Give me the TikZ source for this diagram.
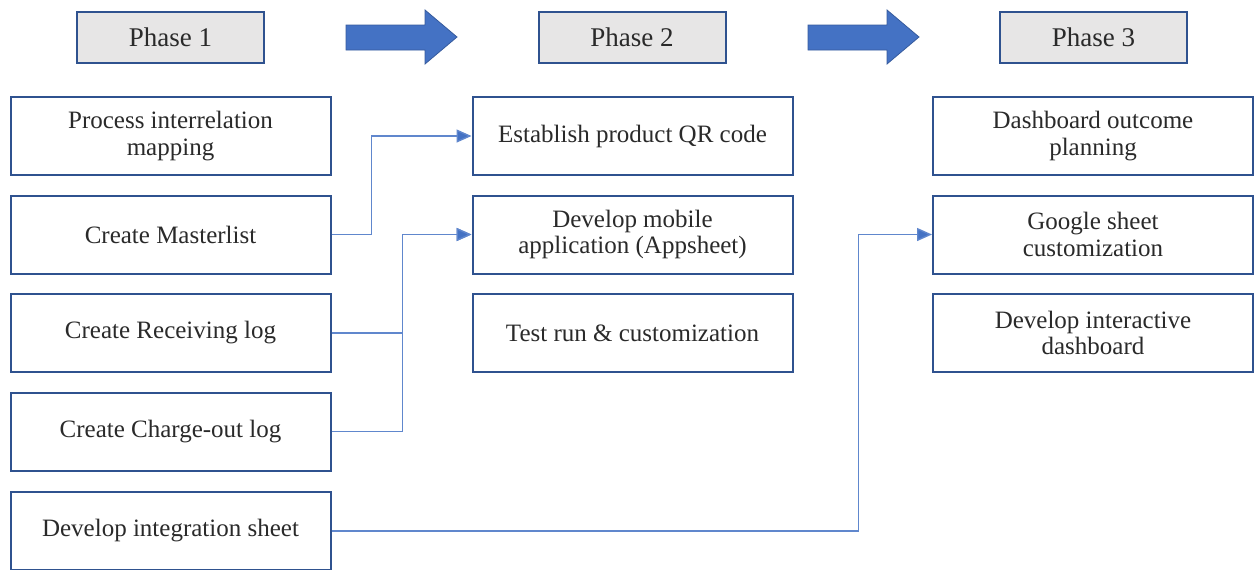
\documentclass[tikz,border=0pt]{standalone}
\usepackage{fontspec}
\setmainfont{Liberation Serif}
\usetikzlibrary{arrows.meta}
\definecolor{boxline}{HTML}{2F528F}
\definecolor{linkblue}{HTML}{4472C4}
\definecolor{headfill}{HTML}{E7E6E6}
\definecolor{txt}{HTML}{2A2A2A}
\tikzset{
    % grey title box on top of each column
    phasebox/.style={draw=boxline, line width=1pt, fill=headfill, text=txt,
        minimum width=93.5pt, minimum height=25.5pt, inner sep=0pt,
        font=\fontsize{13.5}{15}\selectfont},
    % white task box
    taskbox/.style={draw=boxline, line width=1pt, fill=white, text=txt,
        minimum width=160pt, minimum height=39pt, inner sep=0pt, align=center,
        font=\fontsize{12.5}{13.2}\selectfont},
    % elbow connector from one task to the next phase
    link/.style={draw=linkblue!85, line width=0.7pt,
        -{Triangle[length=7.5pt, width=6.5pt, fill=linkblue]}},
    % block arrow between the phase titles
    bigarrow/.style={fill=linkblue, draw=linkblue!80!black, line width=0.4pt},
}

\begin{document}
\begin{tikzpicture}[x=0.5pt, y=-0.5pt]
    \useasboundingbox (0,0) rectangle (1254,569);

    % --- phase titles ---
    \node[phasebox] (ph1) at (170.5, 37.5)  {Phase 1};
    \node[phasebox] (ph2) at (632, 37.5)    {Phase 2};
    \node[phasebox] (ph3) at (1093.5, 37.5) {Phase 3};

    % block arrows between titles
    \foreach \x in {346, 808}{
        \draw[bigarrow] (\x, 25) -- ++(79, 0) -- ++(0, -15) -- ++(32, 27)
            -- ++(-32, 27) -- ++(0, -14) -- ++(-79, 0) -- cycle;
    }

    % --- phase 1 tasks ---
    \node[taskbox] (map)  at (170.5, 136)   {Process interrelation\\mapping};
    \node[taskbox] (mst)  at (170.5, 234.5) {Create Masterlist};
    \node[taskbox] (rcv)  at (170.5, 333)   {Create Receiving log};
    \node[taskbox] (chg)  at (170.5, 431.5) {Create Charge-out log};
    \node[taskbox] (intg) at (170.5, 531)   {Develop integration sheet};

    % --- phase 2 tasks ---
    \node[taskbox] (qr)   at (632.5, 136)   {Establish product QR code};
    \node[taskbox] (app)  at (632.5, 234.5) {Develop mobile\\application (Appsheet)};
    \node[taskbox] (test) at (632.5, 333)   {Test run \& customization};

    % --- phase 3 tasks ---
    \node[taskbox] (dash) at (1093, 136)   {Dashboard outcome\\planning};
    \node[taskbox] (gsh)  at (1093, 234.5) {Google sheet\\customization};
    \node[taskbox] (idb)  at (1093, 333)   {Develop interactive\\dashboard};

    % connectors
    \draw[link] (mst.east) -- ++(40, 0) |- (qr.west);
    \draw[link] (rcv.east) -- ++(71, 0) |- (app.west);
    \draw[link] (chg.east) -- ++(71, 0) |- (app.west);
    \draw[link] (intg.east) -- ++(527, 0) |- (gsh.west);

\end{tikzpicture}
\end{document}
